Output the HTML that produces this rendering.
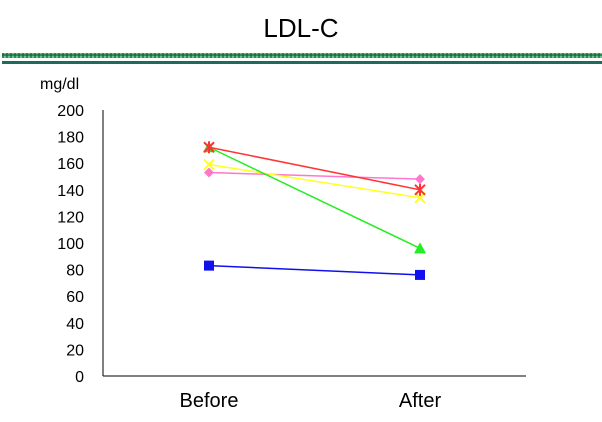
<!DOCTYPE html>
<html><head><style>
body{margin:0;background:#fff;}
svg text{font-family:"Liberation Sans",sans-serif;}
</style></head><body>
<svg width="602" height="417" viewBox="0 0 602 417">
<text x="301" y="37" text-anchor="middle" font-size="26" fill="#000">LDL-C</text>
<defs><pattern id="chk" width="4" height="4" patternUnits="userSpaceOnUse"><rect width="4" height="4" fill="#2e8b57"/><rect width="2" height="2" fill="#6fbf8a"/><rect x="2" y="2" width="2" height="2" fill="#1f7040"/></pattern></defs>
<rect x="2" y="53" width="600" height="5" fill="url(#chk)"/>
<rect x="2" y="61" width="600" height="3" fill="#1e6b5a"/>
<text x="40" y="89" font-size="16" fill="#000">mg/dl</text>
<g id="axes"></g>
<g id="marks"></g>
</svg>
<script>
const categories=["Before","After"];
const yTicks=[0,20,40,60,80,100,120,140,160,180,200];
const blue=[83,76], green=[172,96], red=[172,140], pink=[153,148], yellow=[159,134];
const NS="http://www.w3.org/2000/svg";
const y=v=>376-v*1.33;
const x=i=>209+i*211;
function mk(t,a,p){const e=document.createElementNS(NS,t);for(const k in a)e.setAttribute(k,a[k]);p.appendChild(e);return e;}
const ax=document.getElementById('axes'), mg=document.getElementById('marks');
let l=mk('line',{x1:103,y1:110,x2:103,y2:376,stroke:'#000','stroke-width':1},ax);


l=mk('line',{x1:103,y1:376,x2:526,y2:376,stroke:'#000','stroke-width':1},ax);


yTicks.forEach(v=>{const t=mk('text',{x:84,y:y(v)+6,'text-anchor':'end','font-size':16},ax);t.textContent=v;

});
categories.forEach((c,i)=>{const t=mk('text',{x:x(i),y:407,'text-anchor':'middle','font-size':20},ax);t.textContent=c;

});
function series(vals,col,marker,name){
 const ln=mk('line',{x1:x(0),y1:y(vals[0]),x2:x(1),y2:y(vals[1]),stroke:col,'stroke-width':1.5},mg);
 
 
 vals.forEach((v,i)=>{const cx=x(i),cy=y(v);let m;
  if(marker==='sq')m=mk('rect',{x:cx-5,y:cy-5,width:10,height:10,fill:col},mg);
  else if(marker==='tri')m=mk('polygon',{points:`${cx},${cy-6} ${cx-6},${cy+5} ${cx+6},${cy+5}`,fill:col},mg);
  else if(marker==='dia')m=mk('polygon',{points:`${cx},${cy-5} ${cx+5},${cy} ${cx},${cy+5} ${cx-5},${cy}`,fill:col},mg);
  else if(marker==='x')m=mk('path',{d:`M${cx-5} ${cy-5}L${cx+5} ${cy+5}M${cx+5} ${cy-5}L${cx-5} ${cy+5}`,stroke:col,'stroke-width':2},mg);
  else m=mk('path',{d:`M${cx-5} ${cy-5}L${cx+5} ${cy+5}M${cx+5} ${cy-5}L${cx-5} ${cy+5}M${cx} ${cy-6}L${cx} ${cy+6}`,stroke:col,'stroke-width':2},mg);
  
  });
}
series(blue,'#1010ee','sq','blue-series');
series(pink,'#ff77cc','dia','pink-series');
series(yellow,'#ffff22','x','yellow-series');
series(green,'#22ee22','tri','green-series');
series(red,'#ff3333','star','red-series');
</script>
</body></html>
